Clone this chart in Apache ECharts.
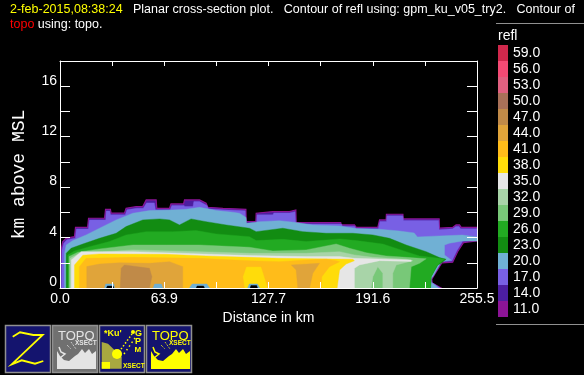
<!DOCTYPE html>
<html><head><meta charset="utf-8">
<script src="https://cdn.jsdelivr.net/npm/echarts@6/dist/echarts.min.js"></script>
<style>html,body{margin:0;padding:0;background:#000}#c{width:584px;height:375px}</style>
</head><body><div id="c"></div>
<script>
// contour polygons: [distance km, height km]
const level14=[[0.3,0],[0.7,3.02],[1.7,3.68],[3.8,3.94],[8.9,4.07],[9.5,4.81],[16.9,4.81],[17.5,5.53],[27.3,5.53],[27.9,6.24],[30.9,6.24],[31.3,5.93],[39.5,5.93],[40.5,6.32],[46.7,6.46],[50.7,6.46],[52.8,6.98],[58.9,6.98],[59.3,6.32],[67.1,6.32],[68,6.67],[75.7,6.67],[76.3,6.98],[85.5,6.98],[89.5,6.72],[90.6,6.40],[99.8,6.32],[113.9,6.24],[114.1,5.26],[120,5.26],[120.2,5.93],[130.4,6.06],[140.6,6.06],[144.5,6.19],[144.7,5.19],[172,5.19],[172.3,5.0],[180.4,5.0],[181.5,4.81],[194.7,4.81],[195.8,5.40],[199.8,5.40],[200,5.85],[210.1,5.85],[210.3,5.48],[232.3,5.48],[232.5,4.74],[240.7,4.81],[242.7,5.0],[244.8,5.0],[245.8,4.81],[255.5,4.81],[255.5,3.73],[247.2,3.6],[243.6,2.88],[240.6,2.05],[234,2.0],[229.5,1.08],[227.8,.7],[228,.4],[233.5,0]];
const level17=[[0.9,0],[1.2,3.0],[2.3,3.55],[4.2,3.82],[9.4,3.95],[10,4.68],[17.4,4.68],[18,5.4],[28,5.4],[28.3,6.1],[30.5,6.1],[31,5.8],[40,5.8],[41,6.2],[47,6.32],[51,6.32],[53,6.75],[57.8,6.75],[58.5,6.2],[67.5,6.2],[68.5,6.55],[76,6.55],[76.5,6.46],[81.5,6.46],[82,6.85],[85.5,6.85],[90,6.55],[91,6.28],[100,6.2],[113.5,6.12],[113.8,5.13],[120.5,5.13],[120.7,5.8],[130.5,5.8],[131,5.95],[140.5,5.95],[144,6.05],[144.4,5.07],[172.5,5.07],[173,4.9],[180.5,4.9],[181.5,4.7],[195,4.7],[196,5.28],[200,5.28],[200.3,5.72],[210,5.72],[210.5,5.36],[232,5.36],[232.3,4.62],[240.5,4.7],[242.5,4.88],[244.5,4.88],[245.5,4.7],[255.5,4.7],[255.5,3.82],[246.8,3.7],[243.2,2.95],[240.2,2.15],[234,2.1],[229.2,1.15],[227.5,.75],[227.7,.45],[233,0]];
const level20=[[2.8,0],[2.8,2.75],[3.8,3.41],[7.9,3.76],[16,4.21],[24.2,4.74],[34.4,5.40],[44.6,5.93],[54.8,6.14],[69.1,6.19],[77.3,6.24],[85.5,6.40],[95.7,6.14],[105.9,6.01],[110,5.93],[114,5.6],[114.3,5.13],[122.3,5.26],[134.5,5.34],[144.7,5.19],[154.9,5.0],[171.3,4.92],[181.5,4.71],[195.8,4.66],[207.9,4.52],[217,4.37],[219,4.05],[232.5,4.13],[246.6,4.2],[255.5,4.05],[255.5,3.73],[246.6,3.73],[238.6,3.55],[235.6,3.41],[235.6,2.62],[239.7,2.22],[233.5,2.09],[229,1.0],[227.2,.7],[227.4,.45],[232,0]];
const level23=[[3.8,0],[3.8,2.75],[6.8,3.15],[14,3.49],[24.2,3.94],[34.4,4.34],[40.5,4.87],[50.7,5.40],[61,5.48],[67.1,5.40],[73.2,5.0],[80.3,5.48],[89.5,5.26],[101.8,5.0],[116.1,4.74],[120.2,4.47],[136.5,4.74],[148.8,4.47],[163.1,4.34],[179.4,4.34],[191.7,4.21],[201.9,3.94],[212.1,3.41],[224.4,2.88],[232.5,2.41],[236.6,2.28],[233.5,1.96],[231.5,1.83],[227.4,.90],[227,0]];
const level26=[[4.8,0],[4.8,2.62],[8.9,2.94],[18.1,3.28],[30.3,3.68],[40.5,4.21],[52.8,4.47],[69.1,4.47],[83.4,4.55],[95.7,4.29],[116.1,4.07],[120.2,3.76],[136.5,3.86],[150.8,3.68],[171.3,3.89],[181.5,3.76],[197.8,3.49],[212.1,2.88],[220.3,2.54],[232.5,2.35],[235.6,2.28],[232.5,1.96],[230.5,1.69],[227.4,.90],[227,0]];
const level29=[[5.5,0],[5.5,2.49],[10.9,2.84],[24.2,3.10],[44.6,3.41],[65,3.41],[85.5,3.41],[116.1,3.23],[130.4,2.94],[150.8,3.02],[169.2,3.49],[177.4,3.15],[187.6,2.80],[199.8,2.54],[212.1,2.43],[224.4,2.32],[220.3,1.96],[215.2,1.69],[214.1,0]];
const level32=[[6.2,0],[6.2,2.35],[11.9,2.75],[44.6,3.02],[85.5,2.88],[116.1,2.75],[150.8,2.75],[171.3,2.88],[180.4,2.62],[191.7,2.43],[212.1,2.28],[216.2,2.17],[206,1.83],[203.9,1.16],[203.9,0],[197.8,0],[197.8,1.16],[194.7,1.69],[191.7,.90],[190.7,0]];
const level35=[[6.9,0],[6.9,2.22],[13,2.88],[26,2.88],[44.6,2.88],[116.1,2.57],[150.8,2.49],[171.3,2.49],[180.4,2.35],[215.2,2.22],[215.2,2.11],[195.8,2.17],[183.5,1.83],[180.4,1.56],[180.4,0]];
const level38=[[8.9,0],[8.9,1.83],[14,2.6],[24.2,2.70],[65,2.67],[89.5,2.54],[116.1,2.43],[134.5,2.35],[179.4,2.28],[180.4,2.17],[175.3,1.90],[171.3,1.43],[169.8,0]];
const level41=[[11.9,0],[11.9,1.69],[16,2.35],[44.6,2.43],[85.5,2.35],[116.1,2.17],[134.5,2.09],[150.8,2.22],[163.1,2.28],[169.2,2.17],[171.3,2.09],[165.1,1.69],[160.4,.90],[160,0],[127.4,0],[123.3,1.69],[114.1,1.69],[112,.90],[113,0]];
const level44a=[[16.4,0],[16.4,1.7],[24.2,1.9],[36.4,2.0],[54.8,1.96],[67.1,2.09],[75.2,1.69],[75.2,0]];
const level44b=[[145.7,0],[144.7,1.43],[141.7,1.83],[159,1.96],[154.9,1.16],[152.9,0]];
const level47=[[36.9,0],[37.5,1.56],[39.5,1.83],[54.8,1.56],[56.3,.90],[54.8,0]];
const hole1=[[27.3,0],[28,.32],[33,.32],[33.4,0]];
const hole1Core=[[28.5,0],[29,.16],[32.5,.16],[33,0]];
const hole2=[[57,0],[58,.32],[62,.32],[63,0]];
const hole3=[[79.3,0],[81,.32],[90,.32],[91.6,0]];
const hole3Core=[[83.5,0],[84,.16],[88,.16],[88.5,0]];
const hole4=[[115,0],[116,.32],[121,.32],[122.3,0]];
const hole4Core=[[116.5,0],[117,.2],[120.5,.2],[121,0]];

// axis tick labels
const xTickLabels=['0.0','','63.9','','127.7','','191.6','','255.5'];
const yTickLabels=['0','','4','','8','','12','','16',''];

// colour scale
const scaleLabels=['59.0','56.0','53.0','50.0','47.0','44.0','41.0','38.0','35.0','32.0','29.0','26.0','23.0','20.0','17.0','14.0','11.0'];
const scaleColors=['#d0284c','#f44a74','#e06080','#a87058','#c08a48','#e0a43a','#ffbc1a','#ffdc0a','#e6e6e6','#a8d4a8','#78c878','#22aa22','#128c12','#70b0d4','#7860e4','#4c1ea0','#8c1496'];
const col=l=>scaleColors[scaleLabels.indexOf(l)];

const layers=[
 [level14,col('14.0'),col('11.0')],[level17,col('17.0')],[level20,col('20.0')],[level23,col('23.0')],
 [level26,col('26.0')],[level29,col('29.0')],[level32,col('32.0')],[level35,col('35.0')],[level38,col('38.0')],
 [level41,col('41.0')],[level44a,col('44.0')],[level44b,col('44.0')],[level47,col('47.0')],
 [hole1,col('20.0')],[hole1Core,'#000'],[hole2,col('20.0')],[hole3,col('20.0')],[hole3Core,'#000'],[hole4,col('20.0')],[hole4Core,'#000']
];

const font='"Liberation Sans"';
const white='#fff';
const series=layers.map(([pts,fill,stroke])=>({
  type:'custom',xAxisIndex:0,yAxisIndex:0,z:2,silent:true,clip:true,animation:false,
  encode:{x:0,y:1},data:pts,
  renderItem:(params,api)=>{
    if(params.dataIndex!==0) return null;
    return {type:'polygon',shape:{points:pts.map(p=>api.coord(p))},
      style:{fill:fill,stroke:stroke||fill,lineWidth:stroke?1.2:0.4}};
  }
}));
series.push({type:'bar',xAxisIndex:2,yAxisIndex:2,barWidth:'100%',silent:true,animation:false,
  data:scaleColors.map(c=>({value:1,itemStyle:{color:c}}))});

// tool buttons (decoration)
const g=[];
const yel='#ffff00', navy='#14146e';
function btn(x,fill){g.push({type:'rect',shape:{x:x+.5,y:325.5,width:45,height:47},style:{fill:fill,stroke:'#909090',lineWidth:1.5}});}
function txt(x,y,t,size,color,weight){g.push({type:'text',x:x,y:y,style:{text:t,fontFamily:font,fontSize:size,fontWeight:weight||'normal',fill:color,verticalAlign:'middle',textVerticalAlign:'middle'}});}
function line(pts,color,w,dash){g.push({type:'polyline',shape:{points:pts},style:{stroke:color,lineWidth:w||1,fill:null,lineDash:dash||null}});}
function mountain(dx,color){g.push({type:'polygon',shape:{points:[[0,351],[0,369],[39,369],[39,351],[35,354],[32,349],[28,353],[25,349],[21,354],[18,356],[12,361],[7,360],[3,356]].map(p=>[dx+p[0],p[1]])},style:{fill:color}});}
function dish(dx,color){
  line([[dx+2,347],[dx+4,352],[dx+8,354],[dx+3,358]],color,1.5);
  line([[dx+10,345],[dx+14,349]],color,1,[1,1]);line([[dx+14,342],[dx+19,349]],color,1,[1,1]);
}
btn(5,navy);
line([[12.7,336.7],[20,332.3],[33.3,335],[42.7,335],[11.7,364.3],[21.7,360.3],[35,363.7],[43.3,361]],yel,1.8);
btn(52,'#707070');
mountain(57,'#e4e4e4');dish(57,'#e4e4e4');
txt(58,336,'TOPO',13,'#e4e4e4');txt(75,343.5,'XSECT',6.5,'#e4e4e4','bold');
btn(99,navy);
g.push({type:'polygon',shape:{points:[[101.7,342],[108,343.7],[121.7,357],[121.7,368.7],[101.7,368.7]]},style:{fill:'#a8a840'}});
g.push({type:'polygon',shape:{points:[[101.7,362],[110,362],[110,368.7],[101.7,368.7]]},style:{fill:yel}});
g.push({type:'circle',shape:{cx:117,cy:354,r:5},style:{fill:yel}});
line([[119,352],[132,334]],yel,1.5,[1.5,2]);
line([[124,354],[135,338]],yel,1.5,[1.5,3]);
g.push({type:'circle',shape:{cx:133,cy:332,r:2},style:{fill:yel}});
txt(104,334,'*Ku\'',9,yel,'bold');
txt(135,334,'G',9,yel,'bold');txt(135,342,'P',9,yel,'bold');txt(134.5,350,'M',8,yel,'bold');
txt(123,366,'XSECT',6.5,yel,'bold');
btn(146,navy);
mountain(151,yel);dish(151,yel);
txt(152,336,'TOPO',13,yel);txt(169,343.5,'XSECT',6.5,yel,'bold');
// legend furniture
g.push({type:'line',shape:{x1:496,y1:23.5,x2:584,y2:23.5},style:{stroke:'#909090',lineWidth:1}});
g.push({type:'line',shape:{x1:496,y1:324.5,x2:584,y2:324.5},style:{stroke:'#909090',lineWidth:1}});
txt(498,36,'refl',14,white);

const axisBase={axisLine:{show:true,onZero:false,lineStyle:{color:white,width:1}},splitLine:{show:false},z:10};
const X_TICK=255.5/8;
const TS=12.5;
const titleRich={d:{color:yel,fontFamily:font,fontSize:TS,fontWeight:'normal'},w:{color:white,fontFamily:font,fontSize:TS,fontWeight:'normal'},r:{color:'#ff0000',fontFamily:font,fontSize:TS,fontWeight:'normal'}};
const option={
 backgroundColor:'#000',animation:false,
 title:[
  {left:10,top:3,padding:0,textStyle:{fontWeight:'normal',rich:titleRich},
   text:'{d|2-feb-2015,08:38:24}{w|   Planar cross-section plot.   Contour of refl using: gpm_ku_v05_try2.   Contour of}'},
  {left:10,top:18,padding:0,textStyle:{fontWeight:'normal',rich:titleRich},
   text:'{r|topo}{w| using: topo.}'}
 ],
 grid:[{left:60,top:61,width:417,height:227},{left:498,top:45,width:10,height:272}],
 xAxis:[
  Object.assign({},axisBase,{type:'value',gridIndex:0,position:'bottom',min:0,max:255.5,interval:X_TICK,
    axisTick:{show:true,inside:true,length:6,lineStyle:{color:white}},
    axisLabel:{color:white,fontFamily:font,fontSize:14,margin:4,showMinLabel:true,showMaxLabel:true,hideOverlap:false,
      formatter:(v,i)=>xTickLabels[i]},
    name:'Distance in km',nameLocation:'middle',nameGap:19,nameTextStyle:{color:white,fontFamily:font,fontSize:14}}),
  Object.assign({},axisBase,{type:'value',gridIndex:0,position:'top',min:0,max:255.5,interval:X_TICK,
    axisTick:{show:true,inside:true,length:5,lineStyle:{color:white}},axisLabel:{show:false}}),
  {type:'value',gridIndex:1,min:0,max:1,show:false}
 ],
 yAxis:[
  Object.assign({},axisBase,{type:'value',gridIndex:0,position:'left',min:0,max:18,interval:2,
    axisTick:{show:true,inside:true,length:10,lineStyle:{color:white}},
    axisLabel:{color:white,fontFamily:font,fontSize:14,margin:3,verticalAlign:'bottom',lineHeight:11,showMaxLabel:false,
      formatter:(v,i)=>yTickLabels[i]||''},
    name:'km above MSL',nameLocation:'middle',nameGap:32,nameRotate:90,
    nameTextStyle:{color:white,fontFamily:'"Liberation Mono"',fontSize:18}}),
  Object.assign({},axisBase,{type:'value',gridIndex:0,position:'right',min:0,max:18,interval:2,
    axisTick:{show:true,inside:true,length:10,lineStyle:{color:white}},axisLabel:{show:false}}),
  {type:'category',gridIndex:1,position:'right',inverse:true,data:scaleLabels,
    axisLine:{show:false},axisTick:{show:false},
    axisLabel:{color:white,fontFamily:font,fontSize:14,margin:5,interval:0}}
 ],
 series:series,
 graphic:g
};
echarts.init(document.getElementById('c'),null,{renderer:'canvas'}).setOption(option);
</script>
</body></html>
